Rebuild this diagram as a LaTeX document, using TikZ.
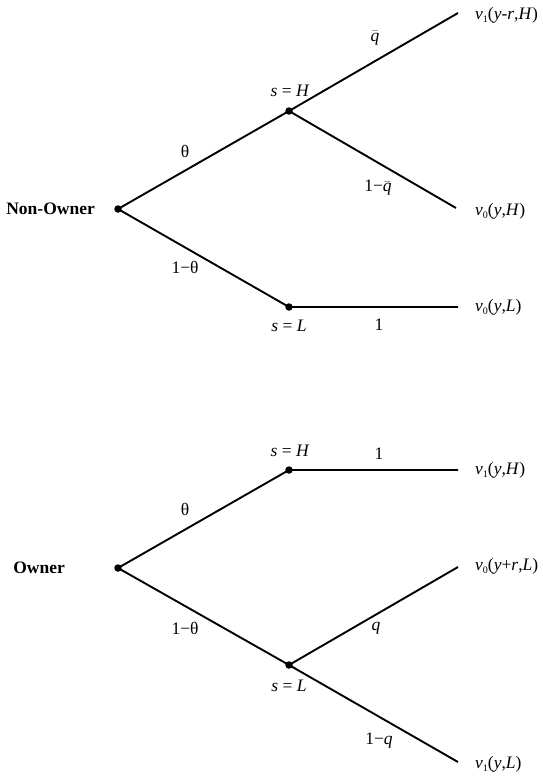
\documentclass[tikz,border=0pt]{standalone}
\usepackage{fontspec}
\setmainfont{Liberation Serif}
\newcommand{\vv}[1]{\textit{v}\raisebox{-0.45ex}{\fontsize{10}{10}\selectfont #1}}
\newcommand{\qbar}{$\bar{\mbox{\itshape q}}$}
\begin{document}
\begin{tikzpicture}[x=1pt,y=-1pt,
  every node/.style={font=\fontsize{17.5}{20}\selectfont},
  branch/.style={line width=1.9pt},
  dot/.style={circle,fill=black,inner sep=0pt,minimum size=7.5pt},
  leaf/.style={anchor=west,inner sep=0pt},
  lbl/.style={inner sep=0pt}]
\useasboundingbox (0,0) rectangle (542,776);
% ---- top tree
\node[dot] (r1) at (118,209) {};
\node[dot] (h1) at (289,111) {};
\node[dot] (l1) at (289,307) {};
\coordinate (e1) at (458,13);
\coordinate (e2) at (456,208);
\coordinate (e3) at (458,307);
\draw[branch] (r1.center) -- (h1.center) -- (e1);
\draw[branch] (h1.center) -- (e2);
\draw[branch] (r1.center) -- (l1.center) -- (e3);
\node[anchor=east,inner sep=0pt,font=\fontsize{17.5}{20}\selectfont\bfseries] (t1) at (95,209) {Non-Owner};
\node[leaf] (v1) at (475,15) {\vv{1}(\textit{y}-\textit{r},\textit{H})};
\node[leaf] (v2) at (475,211) {\vv{0}(\textit{y},\textit{H})};
\node[leaf] (v3) at (475,307) {\vv{0}(\textit{y},\textit{L})};
\node[lbl] (a1) at (185,151) {θ};
\node[lbl] (a2) at (185,267) {1−θ};
\node[lbl] (a3) at (375,38) {\qbar};
\node[lbl] (a4) at (378,188) {1−\qbar};
\node[lbl] (a5) at (379,325) {1};
\node[lbl] (s1) at (290,91) {\textit{s} = \textit{H}};
\node[lbl] (s2) at (289,326) {\textit{s} = \textit{L}};
% ---- bottom tree
\node[dot] (r2) at (118,568) {};
\node[dot] (h2) at (289,470) {};
\node[dot] (l2) at (289,665) {};
\coordinate (f1) at (458,470);
\coordinate (f2) at (458,567);
\coordinate (f3) at (458,762);
\draw[branch] (r2.center) -- (h2.center) -- (f1);
\draw[branch] (r2.center) -- (l2.center) -- (f2);
\draw[branch] (l2.center) -- (f3);
\node[anchor=east,inner sep=0pt,font=\fontsize{17.5}{20}\selectfont\bfseries] (t2) at (65,568) {Owner};
\node[leaf] (w1) at (475,470) {\vv{1}(\textit{y},\textit{H})};
\node[leaf] (w2) at (475,566) {\vv{0}(\textit{y}+\textit{r},\textit{L})};
\node[leaf] (w3) at (475,764) {\vv{1}(\textit{y},\textit{L})};
\node[lbl] (b1) at (185,509) {θ};
\node[lbl] (b2) at (185,628) {1−θ};
\node[lbl] (b3) at (379,454) {1};
\node[lbl] (b4) at (376,628) {\textit{q}};
\node[lbl] (b5) at (379,741) {1−\textit{q}};
\node[lbl] (s3) at (290,451) {\textit{s} = \textit{H}};
\node[lbl] (s4) at (289,686) {\textit{s} = \textit{L}};
\end{tikzpicture}
\end{document}
